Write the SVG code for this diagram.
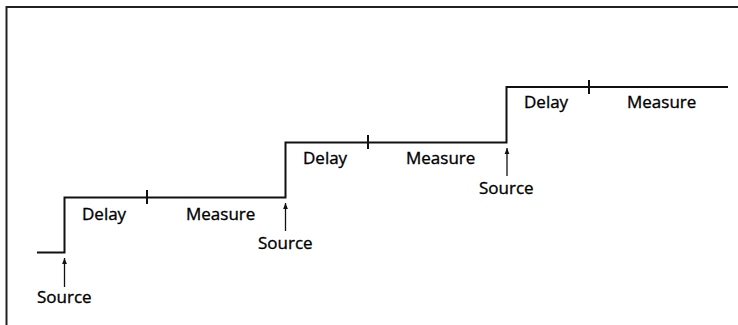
<svg xmlns="http://www.w3.org/2000/svg" width="738" height="325" viewBox="0 0 738 325">
<defs>
<style>
.ln{fill:none;stroke:#111;stroke-width:2}
.fr{fill:none;stroke:#222;stroke-width:2}
.ar{fill:none;stroke:#111;stroke-width:1.3}
text{font-family:"Open Sans","Noto Sans",sans-serif;font-size:17px;fill:#000;stroke:#000;stroke-width:0.35}
</style>
<marker id="ah" viewBox="0 0 10 10" refX="10" refY="5" markerWidth="6" markerHeight="6" markerUnits="userSpaceOnUse" orient="auto">
<path d="M0,1 L10,5 L0,9 Z" fill="#111"/>
</marker>
</defs>
<rect width="738" height="325" fill="#fff"/>
<path class="fr" d="M738,7 H6.5 V325"/>
<g id="connectors">
<path class="ln" d="M37,252.5 H64.5 V197.5 H285.5 V142.5 H506.5 V87 H728"/>
<path class="ln" stroke-width="1.3" d="M147,190 V204 M368,135 V149 M589,80 V94"/>
<path class="ar" marker-end="url(#ah)" d="M64.5,287 V258"/>
<path class="ar" marker-end="url(#ah)" d="M285.5,231 V203"/>
<path class="ar" marker-end="url(#ah)" d="M507,176 V148"/>
</g>
<g id="step1">
<text x="82" y="220">Delay</text>
<text x="186" y="220">Measure</text>
<text x="37" y="303">Source</text>
</g>
<g id="step2">
<text x="303" y="164">Delay</text>
<text x="406" y="164">Measure</text>
<text x="258" y="249">Source</text>
</g>
<g id="step3">
<text x="524" y="108">Delay</text>
<text x="627" y="108">Measure</text>
<text x="479" y="194">Source</text>
</g>
</svg>
